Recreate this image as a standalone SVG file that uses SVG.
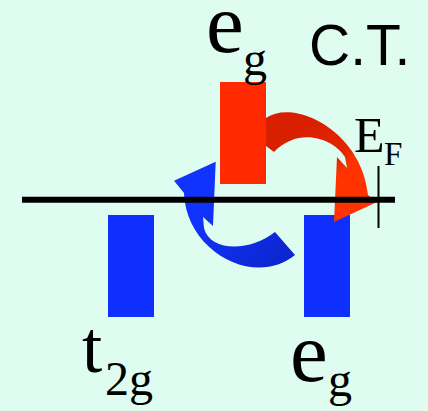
<svg xmlns="http://www.w3.org/2000/svg" width="428" height="411" viewBox="0 0 428 411">
<defs>
<style>
.serif{font-family:"Liberation Serif","Times New Roman",serif;fill:#000}
.sans{font-family:"Liberation Sans",Arial,sans-serif;fill:#000}
.blue{fill:#0F2FFF}
.red{fill:#FF2A00}
</style>
<linearGradient id="gRed" gradientUnits="userSpaceOnUse" x1="300" y1="130" x2="360" y2="190">
<stop offset="0" stop-color="#D82000"/>
<stop offset="0.55" stop-color="#E52400"/>
<stop offset="0.7" stop-color="#FF3300"/>
<stop offset="1" stop-color="#FF3300"/>
</linearGradient>
<linearGradient id="gBlue" gradientUnits="userSpaceOnUse" x1="205" y1="200" x2="280" y2="260">
<stop offset="0" stop-color="#1133FF"/>
<stop offset="0.3" stop-color="#1030F0"/>
<stop offset="1" stop-color="#0C26D0"/>
</linearGradient>
</defs>
<rect width="428" height="411" fill="#DFFCF0"/>
<g id="t2g">
<rect class="blue" x="108" y="215" width="46" height="102"/>
<text class="serif" x="82" y="372" font-size="73">t</text>
<text class="serif" x="105" y="395" font-size="48">2g</text>
</g>
<g id="eg-lower">
<rect class="blue" x="304" y="215" width="46" height="102"/>
<text class="serif" x="290" y="381" font-size="85">e</text>
<text class="serif" x="328" y="396" font-size="48">g</text>
</g>
<g id="connectors">
<path fill="url(#gRed)" d="M258,118 L266,118 C295,98 362,132 368,195 L377,202 L334,222 L337,157 L347,168 L345,157 C335,140 300,125 274,152 L258,140 Z"/>
<path fill="url(#gBlue)" d="M215.7,161.7 L174,180.7 L184,193 C186,252 255,288 295,255 L275,232 C250,252 210,252 204,228 L203,217 L213,226 Z"/>
</g>
<g id="eg-upper">
<rect class="red" x="220" y="82" width="46" height="102"/>
<text class="serif" x="206" y="51.5" font-size="85">e</text>
<text class="serif" x="243" y="75" font-size="48">g</text>
</g>
<g id="fermi-level">
<line x1="22" y1="199.7" x2="395" y2="199.7" stroke="#000" stroke-width="6"/>
<line x1="378.5" y1="166" x2="378.5" y2="228" stroke="#000" stroke-width="2"/>
<text class="serif" x="354" y="152" font-size="50">E</text>
<text class="serif" x="384" y="165" font-size="33">F</text>
</g>
<g id="ct-label">
<text class="sans" x="309" y="65" font-size="57">C.T.</text>
</g>
</svg>
